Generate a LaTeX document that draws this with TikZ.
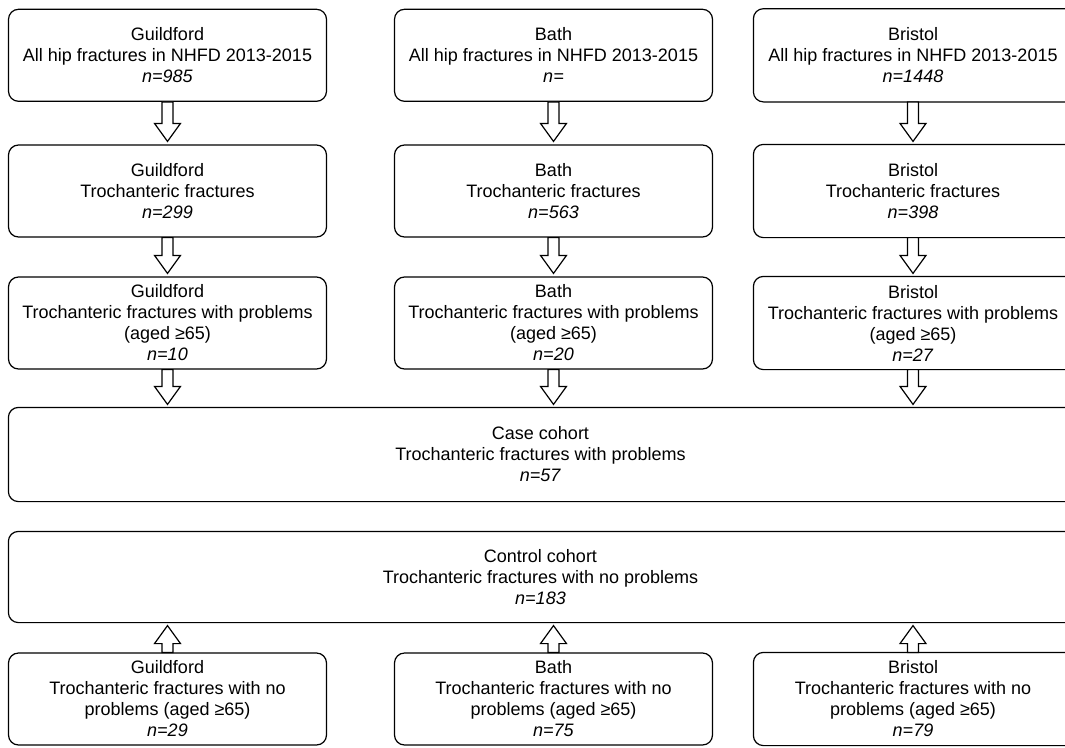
\documentclass[tikz,border=0pt]{standalone}
\usepackage{fontspec}
\setmainfont{Liberation Sans}
\usetikzlibrary{calc}
\newcommand{\boxfont}{\fontsize{18}{21}\selectfont}

\begin{document}
\begin{tikzpicture}[x=1pt,y=-1pt]
\tikzset{box/.style = {shape=rectangle,draw,rounded corners=10pt,line width=1.2pt,minimum width=318pt,minimum height=92pt,inner sep=0pt,align=center,font=\boxfont}}
\tikzset{cutbox/.style = {box,draw=none}}
\tikzset{wide/.style = {cutbox,minimum width=1063pt}}
\tikzset{flow/.style = {draw,fill=white,line width=1.2pt,line join=miter,
  to path={let \p1=(\tikztostart), \p2=(\tikztotarget), \n1={sign(\y2-\y1)} in
    ({\x1-5.5pt},\y1) -- ({\x1-5.5pt},{\y2-(\n1)*21pt}) -- ({\x1-13pt},{\y2-(\n1)*21pt})
    -- (\x1,{\y2-(\n1)*3pt}) -- ({\x1+13pt},{\y2-(\n1)*21pt}) -- ({\x1+5.5pt},{\y2-(\n1)*21pt})
    -- ({\x1+5.5pt},\y1) -- cycle}}}
\useasboundingbox (0,0) rectangle (1065,747);
% boxes
\node[box] (g1) at (167.5,55.3) {Guildford\\All hip fractures in NHFD 2013-2015\\\textit{n=985}};
\node[box] (b1) at (553.5,55.3) {Bath\\All hip fractures in NHFD 2013-2015\\\textit{n=}};
\node[cutbox] (r1) at (913,55.3) {Bristol\\All hip fractures in NHFD 2013-2015\\\textit{n=1448}};
\node[box] (g2) at (167.5,191) {Guildford\\Trochanteric fractures\\\textit{n=299}};
\node[box] (b2) at (553.5,191) {Bath\\Trochanteric fractures\\\textit{n=563}};
\node[cutbox] (r2) at (913,191) {Bristol\\Trochanteric fractures\\\textit{n=398}};
\node[box] (g3) at (167.5,323) {Guildford\\Trochanteric fractures with problems\\(aged ≥65)\\\textit{n=10}};
\node[box] (b3) at (553.5,323) {Bath\\Trochanteric fractures with problems\\(aged ≥65)\\\textit{n=20}};
\node[cutbox] (r3) at (913,323) {Bristol\\Trochanteric fractures with problems\\(aged ≥65)\\\textit{n=27}};
\node[wide,minimum height=93pt] (case) at (540.5,454.5) {Case cohort\\Trochanteric fractures with problems\\\textit{n=57}};
\node[wide,minimum height=90pt] (ctrl) at (540.5,577) {Control cohort\\Trochanteric fractures with no problems\\\textit{n=183}};
\node[box] (g4) at (167.5,699) {Guildford\\Trochanteric fractures with no\\problems (aged ≥65)\\\textit{n=29}};
\node[box] (b4) at (553.5,699) {Bath\\Trochanteric fractures with no\\problems (aged ≥65)\\\textit{n=75}};
\node[cutbox] (r4) at (913,699) {Bristol\\Trochanteric fractures with no\\problems (aged ≥65)\\\textit{n=79}};
% outlines running off the right edge
\foreach \b in {r1,r2,r3,r4,case,ctrl}
  \draw[rounded corners=10pt,line width=1.2pt] (\b.south west) rectangle ($(\b.north east)+(30,0)$);
% arrows
\draw[flow] (g1.south) to (g2.north);
\draw[flow] (b1.south) to (b2.north);
\draw[flow] (r1.south) to (r2.north);
\draw[flow] (g2.south) to (g3.north);
\draw[flow] (b2.south) to (b3.north);
\draw[flow] (r2.south) to (r3.north);
\draw[flow] (g3.south) to (g3.south |- case.north);
\draw[flow] (b3.south) to (b3.south |- case.north);
\draw[flow] (r3.south) to (r3.south |- case.north);
\draw[flow] (g4.north) to (g4.north |- ctrl.south);
\draw[flow] (b4.north) to (b4.north |- ctrl.south);
\draw[flow] (r4.north) to (r4.north |- ctrl.south);
\end{tikzpicture}
\end{document}
